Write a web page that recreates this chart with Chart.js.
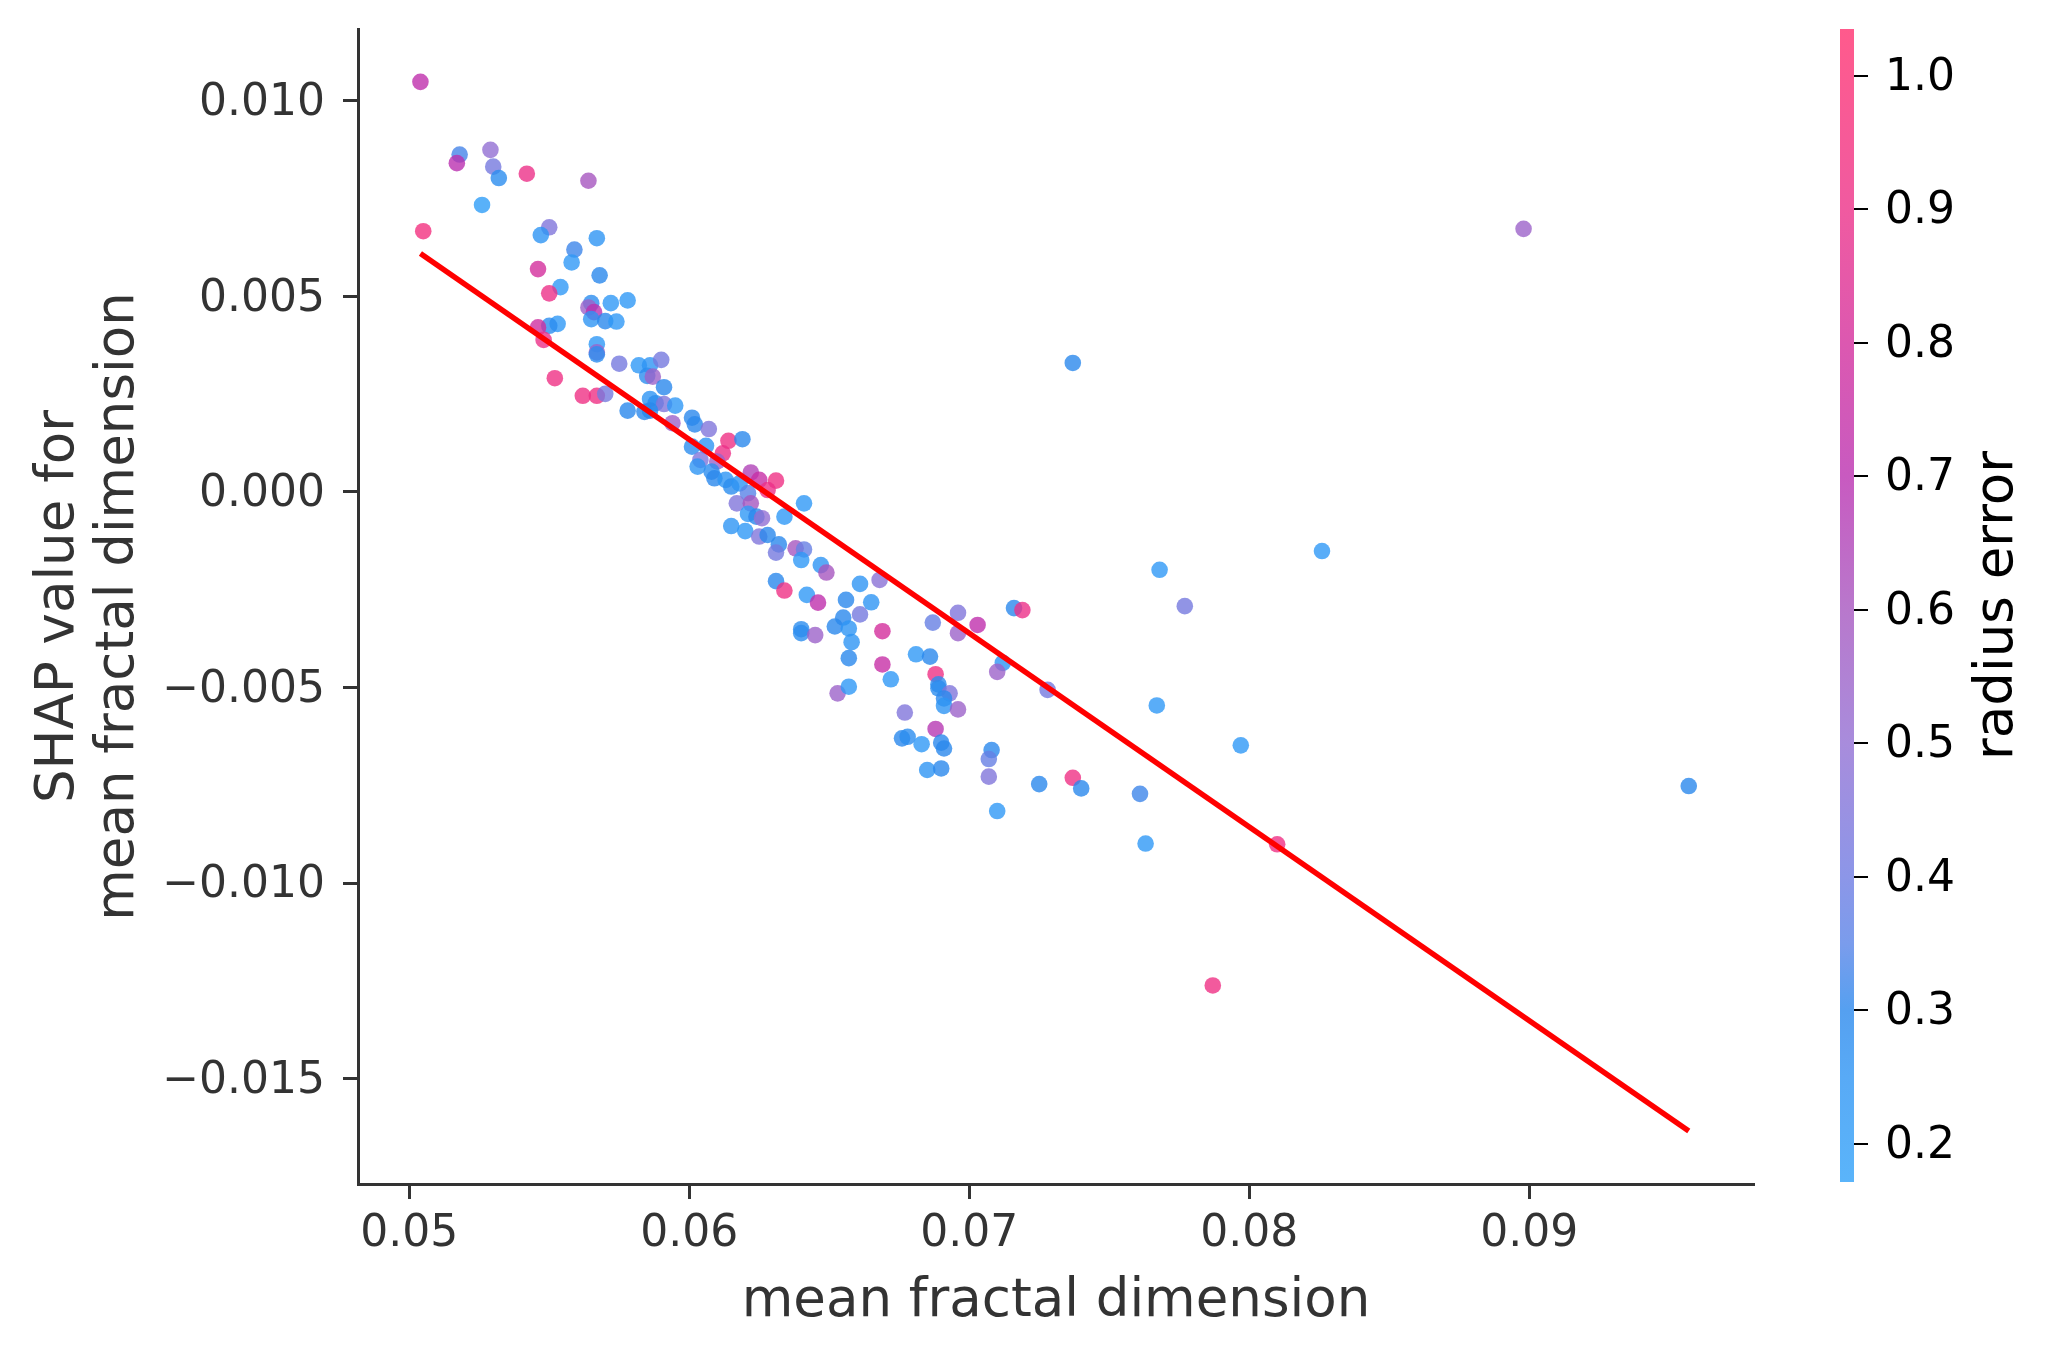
<!DOCTYPE html>
<html>
<head>
<meta charset="utf-8">
<script src="https://cdn.jsdelivr.net/npm/chart.js@4"></script>
<style>
  body { margin: 0; background: #fff; }
  canvas { display: block; }
</style>
</head>
<body>
<canvas id="shapChart" width="2055" height="1357"></canvas>
<script>
// mean fractal dimension (feature value)
const mfd = [
  0.0504, 0.0518, 0.0517, 0.0529, 0.0530, 0.0532, 0.0542, 0.0564, 0.0526, 0.0505,
  0.0550, 0.0547, 0.0567, 0.0559, 0.0558, 0.0546, 0.0568, 0.0554, 0.0550, 0.0578,
  0.0572, 0.0565, 0.0564, 0.0566, 0.0565, 0.0570, 0.0574, 0.0553, 0.0550, 0.0546,
  0.0548, 0.0567, 0.0567, 0.0567, 0.0552, 0.0575, 0.0582, 0.0586, 0.0590, 0.0585,
  0.0587, 0.0591, 0.0562, 0.0567, 0.0570, 0.0578, 0.0586, 0.0588, 0.0591, 0.0595,
  0.0584, 0.0586, 0.0594, 0.0601, 0.0602, 0.0607, 0.0614, 0.0619,
  0.0601, 0.0606, 0.0612, 0.0604, 0.0610, 0.0603, 0.0608, 0.0609, 0.0622, 0.0625,
  0.0631, 0.0628, 0.0613, 0.0615, 0.0618, 0.0621, 0.0617, 0.0622, 0.0641, 0.0621,
  0.0624, 0.0626, 0.0634, 0.0615, 0.0620, 0.0625, 0.0628, 0.0632, 0.0631, 0.0638,
  0.0641, 0.0640, 0.0647, 0.0649, 0.0661, 0.0668, 0.0631, 0.0634, 0.0642, 0.0646,
  0.0656, 0.0665, 0.0661, 0.0655, 0.0652, 0.0657, 0.0640, 0.0640, 0.0645, 0.0658,
  0.0657, 0.0669, 0.0669, 0.0672, 0.0653, 0.0657, 0.0687, 0.0696, 0.0696, 0.0703,
  0.0716, 0.0719, 0.0681, 0.0686, 0.0688, 0.0689, 0.0689, 0.0693, 0.0691, 0.0691,
  0.0696, 0.0712, 0.0710, 0.0728, 0.0677, 0.0688, 0.0676, 0.0678, 0.0683, 0.0690,
  0.0691, 0.0685, 0.0690, 0.0708, 0.0707, 0.0707, 0.0725, 0.0737, 0.0740,
  0.0737, 0.0768, 0.0826, 0.0777, 0.0767, 0.0797, 0.0710, 0.0761, 0.0763, 0.0810,
  0.0898, 0.0957, 0.0787
];

// SHAP value for mean fractal dimension
const shapVals = [
  0.01049, 0.00863, 0.00841, 0.00875, 0.00832, 0.00803, 0.00814, 0.00796, 0.00734, 0.00667,
  0.00677, 0.00657, 0.00649, 0.00620, 0.00587, 0.00570, 0.00554, 0.00524, 0.00508, 0.00490,
  0.00483, 0.00483, 0.00472, 0.00460, 0.00442, 0.00437, 0.00436, 0.00430, 0.00425, 0.00421,
  0.00389, 0.00378, 0.00357, 0.00352, 0.00291, 0.00328, 0.00324, 0.00324, 0.00338, 0.00297,
  0.00295, 0.00268, 0.00246, 0.00246, 0.00251, 0.00208, 0.00238, 0.00227, 0.00225, 0.00221,
  0.00205, 0.00208, 0.00176, 0.00190, 0.00173, 0.00161, 0.00131, 0.00135,
  0.00116, 0.00118, 0.00099, 0.00082, 0.00078, 0.00065, 0.00052, 0.00035, 0.00050, 0.00031,
  0.00029, 0.00005, 0.00031, 0.00014, 0.00022, -0.00003, -0.00029, -0.00029, -0.00029, -0.00056,
  -0.00063, -0.00067, -0.00063, -0.00087, -0.00100, -0.00114, -0.00110, -0.00134, -0.00155, -0.00144,
  -0.00147, -0.00174, -0.00187, -0.00206, -0.00235, -0.00225, -0.00228, -0.00252, -0.00263, -0.00283,
  -0.00276, -0.00282, -0.00313, -0.00321, -0.00344, -0.00349, -0.00351, -0.00361, -0.00366, -0.00384,
  -0.00425, -0.00356, -0.00441, -0.00479, -0.00515, -0.00498, -0.00334, -0.00309, -0.00361, -0.00340,
  -0.00297, -0.00302, -0.00415, -0.00421, -0.00466, -0.00492, -0.00502, -0.00515, -0.00528, -0.00547,
  -0.00556, -0.00437, -0.00460, -0.00506, -0.00564, -0.00606, -0.00630, -0.00626, -0.00645, -0.00641,
  -0.00656, -0.00711, -0.00707, -0.00660, -0.00683, -0.00728, -0.00747, -0.00731, -0.00758,
  0.00330, -0.00199, -0.00151, -0.00292, -0.00546, -0.00648, -0.00816, -0.00772, -0.00899, -0.00901,
  0.00673, -0.00752, -0.01262
];

// radius error (colour feature)
const radiusError = [
  0.72, 0.33, 0.70, 0.50, 0.42, 0.28, 0.90, 0.60, 0.20, 0.95,
  0.45, 0.25, 0.25, 0.32, 0.22, 0.80, 0.30, 0.22, 0.90, 0.22,
  0.22, 0.28, 0.55, 0.70, 0.25, 0.30, 0.22, 0.22, 0.28, 0.78,
  0.90, 0.22, 0.55, 0.28, 0.92, 0.42, 0.22, 0.25, 0.42, 0.28,
  0.55, 0.30, 0.92, 0.92, 0.42, 0.30, 0.25, 0.28, 0.45, 0.22,
  0.30, 0.30, 0.55, 0.30, 0.30, 0.45, 0.92, 0.30,
  0.28, 0.25, 0.90, 0.45, 0.55, 0.25, 0.28, 0.30, 0.65, 0.75,
  0.92, 0.90, 0.25, 0.28, 0.25, 0.35, 0.45, 0.60, 0.22, 0.22,
  0.30, 0.50, 0.22, 0.25, 0.22, 0.45, 0.30, 0.30, 0.42, 0.60,
  0.38, 0.22, 0.25, 0.60, 0.25, 0.48, 0.30, 0.92, 0.22, 0.72,
  0.30, 0.25, 0.42, 0.30, 0.30, 0.25, 0.28, 0.28, 0.55, 0.25,
  0.30, 0.80, 0.75, 0.22, 0.55, 0.22, 0.38, 0.45, 0.55, 0.72,
  0.30, 0.90, 0.22, 0.30, 0.92, 0.28, 0.28, 0.45, 0.30, 0.25,
  0.55, 0.25, 0.55, 0.42, 0.45, 0.68, 0.30, 0.28, 0.22, 0.30,
  0.30, 0.25, 0.30, 0.30, 0.38, 0.45, 0.30, 0.92, 0.30,
  0.30, 0.22, 0.22, 0.42, 0.22, 0.22, 0.22, 0.32, 0.22, 0.92,
  0.55, 0.30, 0.92
];

// red fit line end points
const fitX = [0.0504, 0.0957];
const fitY = [0.0061, -0.01634];

const xTicks = [0.05, 0.06, 0.07, 0.08, 0.09];
const yTicks = [-0.015, -0.010, -0.005, 0.000, 0.005, 0.010];
const cbTicks = [0.2, 0.3, 0.4, 0.5, 0.6, 0.7, 0.8, 0.9, 1.0];
const cbRange = [0.1715, 1.035];

// colour map stops (value, colour as seen on white)
const cmapVals = [0.17, 0.25, 0.30, 0.35, 0.40, 0.50, 0.60, 0.70, 0.80, 0.90, 1.04];
const cmapCols = ['#5ab4fa', '#58aaf6', '#55a0f0', '#7a9cec', '#8c96e8', '#a88cdc',
                  '#b878cc', '#c85ac0', '#dc58b0', '#f05aa0', '#ff5a8c'];

function hexRgb(h) {
  return [parseInt(h.slice(1, 3), 16), parseInt(h.slice(3, 5), 16), parseInt(h.slice(5, 7), 16)];
}

function cmap(v) {
  if (v <= cmapVals[0]) return hexRgb(cmapCols[0]);
  for (let i = 1; i < cmapVals.length; i++) {
    if (v <= cmapVals[i]) {
      const t = (v - cmapVals[i - 1]) / (cmapVals[i] - cmapVals[i - 1]);
      const a = hexRgb(cmapCols[i - 1]), b = hexRgb(cmapCols[i]);
      return a.map((c, k) => c + (b[k] - c) * t);
    }
  }
  return hexRgb(cmapCols[cmapCols.length - 1]);
}

// points are semi transparent: pick the base colour that gives the map colour on white
const ALPHA = 0.8;
function pointColor(v) {
  const c = cmap(v).map(x => Math.max(0, Math.min(255, Math.round((x - 255 * (1 - ALPHA)) / ALPHA))));
  return `rgba(${c[0]},${c[1]},${c[2]},${ALPHA})`;
}

const points = mfd.map((x, i) => ({ x: x, y: shapVals[i] }));
const pointColors = radiusError.map(pointColor);
const fitLine = fitX.map((x, i) => ({ x: x, y: fitY[i] }));

const fmtMinus = (v, d) => {
  const s = Math.abs(v).toFixed(d);
  return (v < -1e-12 ? '\u2212' : '') + s;
};

const colorbarPlugin = {
  id: 'colorbar',
  afterDraw(chart) {
    const ctx = chart.ctx;
    const top = chart.chartArea.top, bottom = chart.chartArea.bottom - 2;
    const x0 = 1840, w = 14;
    const toY = v => bottom - (v - cbRange[0]) / (cbRange[1] - cbRange[0]) * (bottom - top);
    const grad = ctx.createLinearGradient(0, bottom, 0, top);
    cmapVals.forEach((v, i) => {
      const t = Math.max(0, Math.min(1, (v - cbRange[0]) / (cbRange[1] - cbRange[0])));
      grad.addColorStop(t, cmapCols[i]);
    });
    ctx.save();
    ctx.fillStyle = grad;
    ctx.fillRect(x0, top, w, bottom - top);
    ctx.strokeStyle = '#000';
    ctx.lineWidth = 2;
    ctx.fillStyle = '#000';
    ctx.font = '44px "DejaVu Sans"';
    ctx.textAlign = 'left';
    ctx.textBaseline = 'middle';
    cbTicks.forEach(v => {
      const y = Math.round(toY(v));
      ctx.beginPath();
      ctx.moveTo(x0 + w, y);
      ctx.lineTo(x0 + w + 14, y);
      ctx.stroke();
      ctx.fillText(v.toFixed(1), x0 + w + 31, y + 3);
    });
    ctx.translate(1998, (top + bottom) / 2);
    ctx.rotate(-Math.PI / 2);
    ctx.textAlign = 'center';
    ctx.font = '53px "DejaVu Sans"';
    ctx.fillText('radius error', 0, 0);
    ctx.restore();
  }
};

const axisCol = '#333333';

new Chart(document.getElementById('shapChart').getContext('2d'), {
  type: 'scatter',
  data: {
    datasets: [
      {
        type: 'line',
        data: fitLine,
        borderColor: '#ff0000',
        borderWidth: 5.5,
        pointRadius: 0,
        showLine: true,
        fill: false,
        order: 0
      },
      {
        data: points,
        backgroundColor: pointColors,
        borderWidth: 0,
        pointRadius: 8.3,
        pointHoverRadius: 8.3,
        order: 1
      }
    ]
  },
  options: {
    responsive: false,
    animation: false,
    events: [],
    layout: { padding: { left: 0, top: 29, right: 301, bottom: 0 } },
    plugins: { legend: { display: false }, tooltip: { enabled: false } },
    scales: {
      x: {
        type: 'linear',
        min: 0.04817,
        max: 0.09803,
        afterFit(s) { s.height = 173; },
        afterBuildTicks(s) { s.ticks = xTicks.map(v => ({ value: v })); },
        ticks: {
          includeBounds: false,
          padding: 9,
          color: axisCol,
          font: { family: 'DejaVu Sans', size: 44 },
          callback: v => v.toFixed(2)
        },
        grid: { drawOnChartArea: false, drawTicks: true, tickLength: 15, tickWidth: 3, tickColor: axisCol },
        border: { display: true, color: axisCol, width: 3 },
        title: {
          display: true,
          text: 'mean fractal dimension',
          color: axisCol,
          font: { family: 'DejaVu Sans', size: 53, lineHeight: 1.13 },
          padding: { top: 0, bottom: 25 }
        }
      },
      y: {
        type: 'linear',
        min: -0.017698,
        max: 0.011841,
        afterFit(s) { s.width = 358; s.paddingTop = 0; s.paddingBottom = 0; },
        afterBuildTicks(s) { s.ticks = yTicks.map(v => ({ value: v })); },
        ticks: {
          includeBounds: false,
          padding: 18,
          labelOffset: 3,
          color: axisCol,
          font: { family: 'DejaVu Sans', size: 44 },
          callback: v => fmtMinus(v, 3)
        },
        grid: { drawOnChartArea: false, drawTicks: true, tickLength: 15, tickWidth: 3, tickColor: axisCol },
        border: { display: true, color: axisCol, width: 3 },
        title: {
          display: true,
          text: ['SHAP value for', 'mean fractal dimension'],
          color: axisCol,
          font: { family: 'DejaVu Sans', size: 53, lineHeight: 1.13 },
          padding: { top: 29, bottom: 0 }
        }
      }
    }
  },
  plugins: [colorbarPlugin]
});
</script>
</body>
</html>
